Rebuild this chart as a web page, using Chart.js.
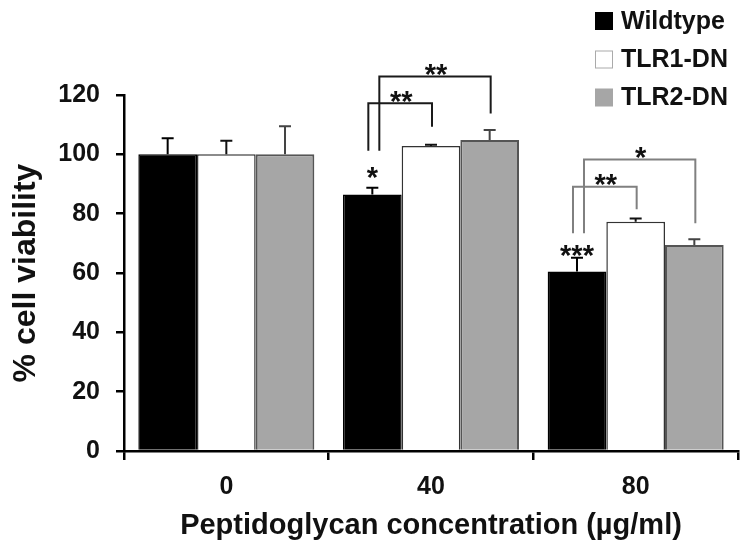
<!DOCTYPE html>
<html><head><meta charset="utf-8">
<script src="https://cdn.jsdelivr.net/npm/chart.js@4"></script>
<style>html,body{margin:0;padding:0;background:#fff}#wrap{width:752px;height:554px}</style>
</head><body><div id="wrap"><canvas id="c" width="752" height="554"></canvas></div>
<script>
// ---- data ----
const categories = ['0', '40', '80'];
const seriesNames = ['Wildtype', 'TLR1-DN', 'TLR2-DN'];
const wildtype = [100, 86.5, 60.5];
const tlr1dn = [100, 102.8, 77.3];
const tlr2dn = [100, 104.8, 69.4];
const wildtypeErr = [5.4, 2.2, 4.6];
const tlr1dnErr = [4.6, 0.4, 1.1];
const tlr2dnErr = [9.5, 3.4, 2.0];
const yTicks = [0, 20, 40, 60, 80, 100, 120];
// significance brackets (values in data units)
const bracketGroup = [1, 1, 2, 2];
const bracketFrom = [0, 0, 0, 0];
const bracketTo = [1, 2, 1, 2];
const bracketLabel = ['**', '**', '**', '*'];
const bracketTop = [117.2, 126.2, 89.1, 98.3];
const bracketLeftEnd = [101.2, 101.2, 73.4, 73.4];
const bracketRightEnd = [109.3, 113.8, 81.5, 76.8];
const barMarkLabel = ['', '*', '***'];
const barMarkLevel = [null, 94.7, 68.4];

const FAMILY = "'Liberation Sans', Arial, Helvetica, sans-serif";
const fillColors = ['#000000', '#ffffff', '#a6a6a6'];
const borderColors = ['#000000', '#333333', '#555555'];

const overlay = {
  id: 'overlay',
  afterDatasetsDraw(chart) {
    const { ctx, scales: { x, y } } = chart;
    const errs = [wildtypeErr, tlr1dnErr, tlr2dnErr];
    const errColors = ['#000', '#111', '#444'];
    ctx.save();
    ctx.lineCap = 'butt';
    chart.data.datasets.forEach((ds, di) => {
      const meta = chart.getDatasetMeta(di);
      meta.data.forEach((bar, i) => {
        const v = ds.data[i], e = errs[di][i];
        const yTop = y.getPixelForValue(v + e);
        const yBar = y.getPixelForValue(v);
        ctx.strokeStyle = errColors[di];
        ctx.lineWidth = 2;
        ctx.beginPath();
        ctx.moveTo(bar.x, yBar); ctx.lineTo(bar.x, yTop);
        ctx.moveTo(bar.x - 6, yTop); ctx.lineTo(bar.x + 6, yTop);
        ctx.stroke();
      });
    });
    // star marks over wildtype bars
    const starSize = 29;
    ctx.font = 'bold ' + starSize + 'px ' + FAMILY;
    ctx.textAlign = 'center';
    ctx.textBaseline = 'alphabetic';
    ctx.fillStyle = '#111';
    const wtMeta = chart.getDatasetMeta(0);
    barMarkLabel.forEach((lab, i) => {
      if (!lab) return;
      const cy = y.getPixelForValue(barMarkLevel[i]);
      ctx.fillText(lab, wtMeta.data[i].x, cy + 0.58 * starSize);
    });
    // brackets
    const legOffsets = [-4, 7];
    const groupColors = { 1: '#1a1a1a', 2: '#808080' };
    bracketGroup.forEach((g, k) => {
      const fromBar = chart.getDatasetMeta(bracketFrom[k]).data[g];
      const toBar = chart.getDatasetMeta(bracketTo[k]).data[g];
      const xl = fromBar.x + (bracketTo[k] === 1 ? legOffsets[0] : legOffsets[1]);
      const xr = toBar.x + 1;
      const yt = y.getPixelForValue(bracketTop[k]);
      const yl = y.getPixelForValue(bracketLeftEnd[k]);
      const yr = y.getPixelForValue(bracketRightEnd[k]);
      ctx.strokeStyle = groupColors[g];
      ctx.lineWidth = 2;
      ctx.beginPath();
      ctx.moveTo(xl, yl); ctx.lineTo(xl, yt); ctx.lineTo(xr, yt); ctx.lineTo(xr, yr);
      ctx.stroke();
      ctx.fillStyle = '#111';
      ctx.fillText(bracketLabel[k], (xl + xr) / 2 + 1, yt - 9 + 0.58 * starSize);
    });
    ctx.restore();
  },
  afterDraw(chart) {
    const { ctx } = chart;
    ctx.save();
    const rows = [21, 59.5, 97.5];
    chart.data.datasets.forEach((ds, i) => {
      const cy = rows[i];
      ctx.fillStyle = ds.backgroundColor;
      ctx.fillRect(595, cy - 9, 18, 18);
      if (i === 1) {
        ctx.strokeStyle = '#aaa'; ctx.lineWidth = 1;
        ctx.strokeRect(595.5, cy - 8.5, 17, 17);
      }
      ctx.fillStyle = '#111';
      ctx.font = 'bold 25px ' + FAMILY;
      ctx.textAlign = 'left';
      ctx.textBaseline = 'middle';
      ctx.fillText(ds.label, 621, cy + 1);
    });
    ctx.restore();
  }
};

new Chart(document.getElementById('c'), {
  type: 'bar',
  data: {
    labels: categories,
    datasets: [
      { label: seriesNames[0], data: wildtype, backgroundColor: fillColors[0], borderColor: borderColors[0], borderWidth: 1.5 },
      { label: seriesNames[1], data: tlr1dn, backgroundColor: fillColors[1], borderColor: borderColors[1], borderWidth: 1.5 },
      { label: seriesNames[2], data: tlr2dn, backgroundColor: fillColors[2], borderColor: borderColors[2], borderWidth: 2 }
    ]
  },
  options: {
    responsive: false,
    animation: false,
    layout: { padding: { top: 95, right: 14, left: 0, bottom: 0 } },
    datasets: { bar: { categoryPercentage: 0.86, barPercentage: 1 } },
    plugins: { legend: { display: false }, tooltip: { enabled: false } },
    scales: {
      x: {
        grid: { display: true, drawOnChartArea: false, drawTicks: true, tickLength: 9, color: '#000', lineWidth: 2.5, offset: true },
        border: { display: true, color: '#000', width: 2.5 },
        ticks: { font: { family: FAMILY, size: 25, weight: 'bold' }, color: '#111', padding: 12 },
        title: { display: true, text: 'Peptidoglycan concentration (µg/ml)', font: { family: FAMILY, size: 29, weight: 'bold' }, color: '#111', padding: { top: 0, bottom: 11 } },
        afterFit(s) { s.height = 103; }
      },
      y: {
        min: 0, max: 120,
        afterBuildTicks(s) { s.ticks = yTicks.map(v => ({ value: v })); },
        grid: { display: true, drawOnChartArea: false, drawTicks: true, tickLength: 8, color: '#000', lineWidth: 2.5 },
        border: { display: true, color: '#000', width: 2.5 },
        ticks: { font: { family: FAMILY, size: 25, weight: 'bold' }, color: '#111', padding: 16 },
        title: { display: true, text: '% cell viability', font: { family: FAMILY, size: 32, weight: 'bold' }, color: '#111', padding: { top: 7, bottom: 0 } },
        afterFit(s) { s.width = 124; }
      }
    }
  },
  plugins: [overlay]
});
</script>
</body></html>
